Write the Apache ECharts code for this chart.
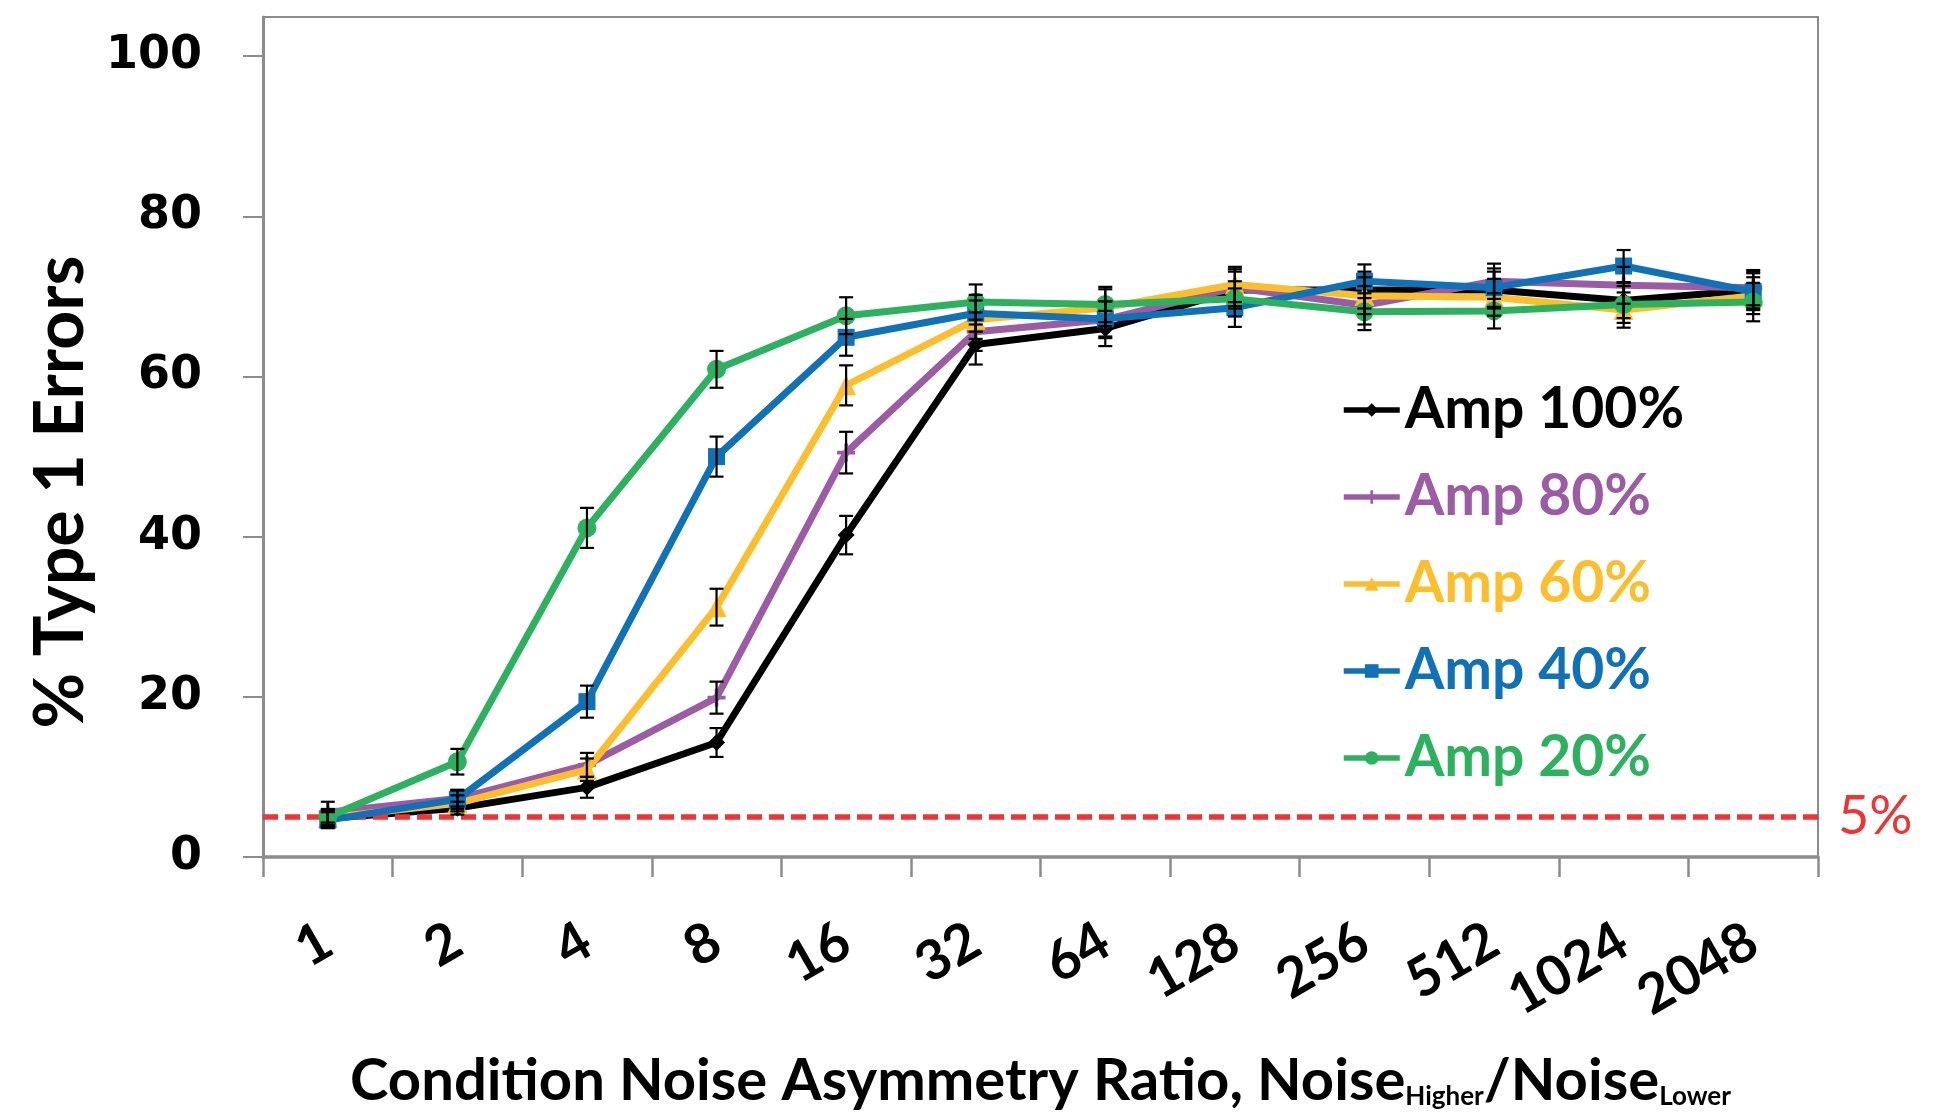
<!DOCTYPE html>
<html>
<head>
<meta charset="utf-8">
<script src="https://cdn.jsdelivr.net/npm/echarts@6/dist/echarts.min.js"></script>
<style>
  html, body { margin: 0; padding: 0; background: #fff; }
  #chart { width: 1947px; height: 1116px; }
</style>
</head>
<body>
<div id="chart"></div>
<script>
// ---- data ----
const categories = ['1', '2', '4', '8', '16', '32', '64', '128', '256', '512', '1024', '2048'];
const yTickValues = [0, 20, 40, 60, 80, 100];

const amp100 = [4.8, 6.1, 8.7, 14.3, 40.2, 64.0, 66.0, 70.8, 70.8, 70.8, 69.5, 70.8];
const amp80  = [5.6, 7.3, 11.5, 19.9, 50.5, 65.6, 67.1, 71.1, 68.9, 71.9, 71.4, 71.1];
const amp60  = [4.9, 6.7, 10.9, 31.2, 58.9, 67.1, 68.6, 71.5, 70.1, 69.9, 68.3, 70.1];
const amp40  = [4.6, 7.2, 19.4, 50.0, 64.9, 67.9, 67.2, 68.6, 71.9, 71.1, 73.8, 70.6];
const amp20  = [5.0, 11.9, 41.1, 60.9, 67.6, 69.3, 69.0, 69.7, 68.1, 68.2, 69.0, 69.3];

const err100 = [1.0, 0.8, 1.3, 1.8, 2.4, 2.5, 2.2, 2.3, 2.3, 2.3, 2.2, 2.3];
const err80  = [1.3, 1.0, 1.5, 2.0, 2.6, 2.4, 2.3, 2.3, 2.4, 2.2, 2.3, 2.2];
const err60  = [1.0, 1.0, 1.4, 2.3, 2.5, 2.4, 2.3, 2.2, 2.3, 2.3, 2.2, 2.3];
const err40  = [1.0, 1.2, 2.0, 2.5, 2.3, 2.3, 2.2, 2.4, 2.1, 2.4, 2.0, 2.3];
const err20  = [1.0, 1.6, 2.5, 2.3, 2.3, 2.2, 2.2, 2.2, 2.3, 2.2, 2.3, 2.4];

const threshold = 5;
const thresholdLabel = '5%';

const seriesNames = ['Amp 100%', 'Amp 80%', 'Amp 60%', 'Amp 40%', 'Amp 20%'];
const seriesValues = [amp100, amp80, amp60, amp40, amp20];
const seriesErrors = [err100, err80, err60, err40, err20];

// ---- styling ----
const colors = ['#000000', '#9B5BA5', '#FDBE2C', '#0F71B8', '#2CB25F'];
const plusPath = 'path://M4,0 L6,0 L6,4 L10,4 L10,6 L6,6 L6,10 L4,10 L4,6 L0,6 L0,4 L4,4 Z';
const symbols = ['diamond', plusPath, 'triangle', 'rect', 'circle'];
const symbolSizes = [17, 18, 20, 17, 19];

const chart = echarts.init(document.getElementById('chart'), null, { renderer: 'canvas' });

function errorRender(params, api) {
  const idx = api.value(0);
  const lo = api.coord([idx, api.value(1)]);
  const hi = api.coord([idx, api.value(2)]);
  const w = 7;
  const st = { stroke: '#000', lineWidth: 2.2 };
  return {
    type: 'group',
    children: [
      { type: 'line', shape: { x1: lo[0], y1: lo[1], x2: hi[0], y2: hi[1] }, style: st },
      { type: 'line', shape: { x1: lo[0] - w, y1: lo[1], x2: lo[0] + w, y2: lo[1] }, style: st },
      { type: 'line', shape: { x1: hi[0] - w, y1: hi[1], x2: hi[0] + w, y2: hi[1] }, style: st }
    ]
  };
}

const series = [];
seriesNames.forEach((name, k) => {
  const s = {
    name: name,
    type: 'line',
    data: seriesValues[k],
    symbol: symbols[k],
    symbolSize: symbolSizes[k],
    showAllSymbol: true,
    lineStyle: { color: colors[k], width: 7 },
    itemStyle: { color: colors[k] },
    z: 2 + k,
    animation: false
  };
  if (k === 0) {
    s.markLine = {
      silent: true,
      symbol: 'none',
      animation: false,
      lineStyle: { color: '#EE3434', type: [15, 7], width: 5.5 },
      label: {
        show: true,
        position: 'end',
        formatter: thresholdLabel,
        color: '#EE3434',
        fontFamily: 'Lato',
        fontWeight: 'normal',
        fontSize: 54,
        distance: 20
      },
      data: [{ yAxis: threshold }]
    };
  }
  series.push(s);
});
seriesNames.forEach((name, k) => {
  series.push({
    type: 'custom',
    name: name + ' err',
    renderItem: errorRender,
    data: seriesValues[k].map((v, i) => [i, v - seriesErrors[k][i], v + seriesErrors[k][i]]),
    encode: { x: 0, y: [1, 2] },
    z: 20,
    silent: true,
    animation: false
  });
});

const option = {
  backgroundColor: '#ffffff',
  animation: false,
  grid: {
    left: 263, right: 129, top: 17, bottom: 259,
    show: true, borderColor: '#8C8C8C', borderWidth: 2, backgroundColor: 'transparent'
  },
  legend: {
    orient: 'vertical',
    left: 1341,
    top: 380,
    padding: 0,
    itemWidth: 56,
    itemHeight: 17,
    itemGap: 27,
    selectedMode: false,
    lineStyle: { width: 5.5 },
    textStyle: { fontFamily: 'Lato', fontWeight: 'bold', fontSize: 57, lineHeight: 60 },
    data: seriesNames.map((n, k) => ({ name: n, textStyle: { color: colors[k] } }))
  },
  xAxis: {
    type: 'category',
    data: categories,
    boundaryGap: true,
    axisLine: { show: true, lineStyle: { color: '#8C8C8C', width: 3.5 } },
    axisTick: { show: true, length: 20, interval: 0, lineStyle: { color: '#8C8C8C', width: 2.5 } },
    axisLabel: {
      interval: 0,
      rotate: 30,
      margin: 80,
      color: '#000',
      fontFamily: 'Lato',
      fontWeight: 'bold',
      fontSize: 55
    },
    splitLine: { show: false },
    name: '{m|Condition Noise Asymmetry Ratio, Noise}{s|Higher}{m|/Noise}{s|Lower}',
    nameLocation: 'middle',
    nameGap: 195,
    nameTextStyle: {
      color: '#000',
      rich: {
        m: { fontFamily: 'Lato', fontWeight: 'bold', fontSize: 58, lineHeight: 58, color: '#000' },
        s: { fontFamily: 'Lato', fontWeight: 'bold', fontSize: 26, lineHeight: 26, verticalAlign: 'bottom', padding: [20, 0, 0, 0], color: '#000' }
      }
    }
  },
  yAxis: {
    type: 'value',
    min: 0,
    max: 104.9,
    axisLine: { show: true, lineStyle: { color: '#8C8C8C', width: 3 } },
    axisTick: { show: true, length: 20, customValues: yTickValues, lineStyle: { color: '#8C8C8C', width: 2 } },
    axisLabel: {
      customValues: yTickValues,
      margin: 61,
      color: '#000',
      fontFamily: 'DejaVu Sans',
      fontWeight: 'bold',
      fontSize: 46
    },
    splitLine: { show: false },
    name: '% Type 1 Errors',
    nameLocation: 'middle',
    nameRotate: 90,
    nameGap: 160,
    nameTextStyle: {
      color: '#000',
      fontFamily: 'Lato',
      fontWeight: 'bold',
      fontSize: 68,
      padding: [0, 110, 0, 0]
    }
  },
  series: series
};

chart.setOption(option);
</script>
</body>
</html>
